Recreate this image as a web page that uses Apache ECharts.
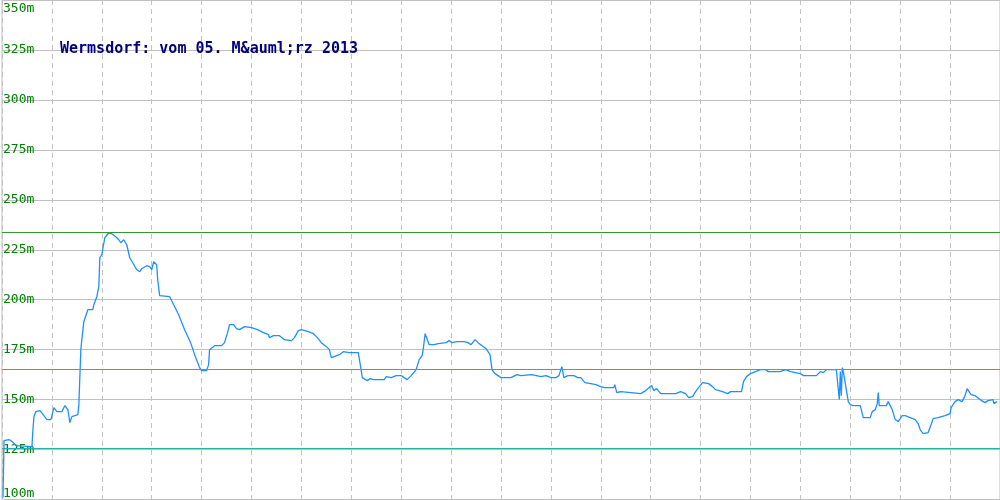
<!DOCTYPE html>
<html>
<head>
<meta charset="utf-8">
<script src="https://cdn.jsdelivr.net/npm/echarts@6/dist/echarts.min.js"></script>
<style>
html,body{margin:0;padding:0;background:#fff;}
#chart{width:1000px;height:500px;}
</style>
</head>
<body>
<div id="chart"></div>
<script>
// sample position along the track (arbitrary time units, 0..1000)
const samplePos = [1,2,7,10,14,30,31,32,34,38,42,45,49,52,55,60,63,66,68,70,76,77,79,80,82,86,91,92,95,97,98,100,103,107,110,114,117,119,122,125,128,131,135,138,140,145,148,150,152,155,156,158,168,172,177,183,189,193,198,200,205,207,208,213,220,223,226,228,232,235,238,243,250,256,262,267,268,272,278,283,290,293,297,300,307,312,316,320,325,328,330,332,338,342,348,357,359,361,363,366,369,372,378,380,383,385,390,395,400,403,406,410,412,415,418,421,422,424,426,428,433,437,445,448,451,456,463,467,470,472,474,477,481,485,489,491,494,497,500,510,516,520,531,540,545,550,555,558,561,563,567,573,577,580,584,590,595,600,604,613,614,616,620,622,640,645,651,653,656,660,675,680,685,688,692,695,698,702,708,712,715,722,727,730,741,743,746,750,755,760,765,768,780,785,790,800,803,816,820,823,826,836,838,839,840,841,842,843,846,848,850,853,860,862,863,870,872,875,877,878,879,886,888,890,892,895,898,902,905,910,915,918,920,923,925,928,931,933,938,945,950,951,955,958,960,962,965,967,969,971,975,980,985,988,993,994,997];
// elevation in metres
const elevation = [101,129.5,130,129,127,126.5,135,141.5,144,144.5,142,140,140,146,144,144,147,145,138.5,141.5,142.5,147.5,175,180,189,195,195,197.5,201.5,206.5,221,222.5,231,233.5,233,231.5,230,228.5,230,227.5,221,218.5,215,214,215.5,217,216.5,215,219,217.5,210,202,201.5,197.5,192.5,185,178.5,172.5,166,164.5,164.5,167.5,175,177,177,178.5,183.5,187.5,187.5,185.5,185,186.5,186,185,183.5,182.5,181,182,182,180,179.5,181,184.5,185,184,183,181,178.5,176.5,175,171,172,172.5,174,173.5,173.5,167.5,161,160,159.5,160.5,160,160,161,160,161.5,161,162,162,161,160,162,161,165,170,172,175,183,183,177.5,177.5,178,178.5,179.5,178.5,179,179,178.5,177.5,178,180,178.5,177,175.5,172.5,165,163,162,161,161,162.5,162,162.5,161.5,162,161,161,162,166.5,161,162,162,161,161,158.5,158,157.5,156.5,156,156,157.5,153.5,154,153,153,154.5,157,154.5,155.5,153,153,154,153,151,151.5,154,156,158.5,158,156.5,155,154,153,154,154,159,161.5,163,164,165,165,164,164,165,164,163,162,162,164,163.5,165,165,166,150,164,152,166,164,155,149,147.5,147,147,146,141,141,144,145,148,153.5,147,147,149,149,145,140,139,142,142,141,140,138,135,133,132,133.5,137.5,140.5,141,142,143,146,149,150,151,149,152,155.5,155,152.5,152,150,148.5,149.5,150,148,149];
// y-axis ticks
const yMin = 100, yMax = 350, yStep = 25;
// reference lines (m): maximum, mean, minimum
const refLines = [233.75, 165.25, 125.75];
const refColors = ['#2f9a2f', '#5e9f78', '#22b3a6'];
const titleText = 'Wermsdorf: vom 05. M&auml;rz 2013';

const chart = echarts.init(document.getElementById('chart'), null, {renderer: 'canvas'});
const lineData = samplePos.map((p, i) => [p, elevation[i]]);

const refSeries = refLines.map((v, i) => ({
  type: 'line',
  data: [],
  silent: true,
  z: 2,
  markLine: {
    silent: true,
    symbol: 'none',
    animation: false,
    label: {show: false},
    lineStyle: {color: refColors[i], type: 'solid', width: 1},
    data: [{yAxis: v}]
  }
}));

chart.setOption({
  animation: false,
  backgroundColor: '#ffffff',
  title: {
    text: titleText,
    left: 60,
    top: 42,
    padding: 0,
    textStyle: {fontFamily: 'DejaVu Sans Mono', fontWeight: 'bold', fontSize: 15, color: '#000080'}
  },
  grid: {left: 0, right: 0, top: 0, bottom: 0, show: true, borderColor: '#bdbdbd', borderWidth: 1, containLabel: false},
  xAxis: {
    type: 'value', min: 0, max: 1000, interval: 50,
    axisLine: {show: false}, axisTick: {show: false}, axisLabel: {show: false},
    splitLine: {show: true, lineStyle: {color: '#c3c3c3', type: [5, 4], width: 1}}
  },
  yAxis: {
    type: 'value', min: yMin, max: yMax, interval: yStep,
    axisLine: {show: false}, axisTick: {show: false},
    splitLine: {show: true, lineStyle: {color: '#c0c0c0', width: 1}},
    axisLabel: {
      inside: true, margin: 1, align: 'left',
      color: '#008000', fontFamily: 'DejaVu Sans Mono', fontSize: 13,
      formatter: function (v) {
        if (v === yMax) return '{top|' + v + 'm}';
        if (v === yMin) return '{bot|' + v + 'm}';
        return v + 'm';
      },
      rich: {
        top: {color: '#008000', fontFamily: 'DejaVu Sans Mono', fontSize: 13, padding: [17, 0, 0, 0]},
        bot: {color: '#008000', fontFamily: 'DejaVu Sans Mono', fontSize: 13, padding: [0, 0, 12, 0]}
      }
    }
  },
  series: refSeries.concat([{
    type: 'line',
    data: lineData,
    showSymbol: false,
    symbol: 'none',
    lineStyle: {color: '#1e90ff', width: 1.3},
    z: 3
  }])
});
</script>
</body>
</html>
